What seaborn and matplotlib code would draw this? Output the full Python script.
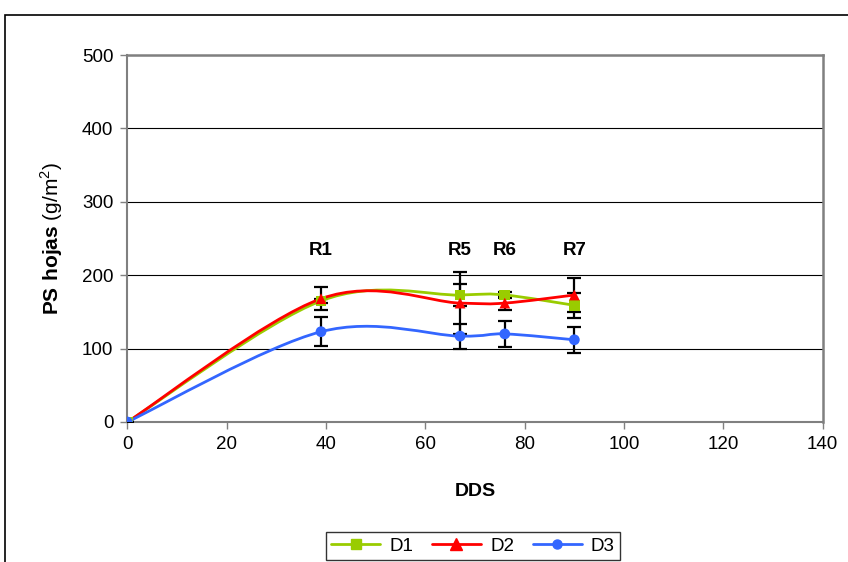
import numpy as np
import pandas as pd
import seaborn as sns
import matplotlib.pyplot as plt
from matplotlib.path import Path
from matplotlib.patches import PathPatch, Rectangle
from matplotlib.lines import Line2D

# datos
dds = [0, 39, 67, 76, 90]
d1 = [0, 165, 173, 173, 159]
d2 = [0, 168, 162, 162, 173]
d3 = [0, 123, 117, 120, 112]
err_d1 = [0, 3, 15, 4, 17]
err_d2 = [0, 16, 42, 10, 23]
err_d3 = [0, 20, 17, 18, 18]
etapas = ['R1', 'R5', 'R6', 'R7']
etapas_x = [39, 67, 76, 90]

series = {'D1': (d1, err_d1), 'D2': (d2, err_d2), 'D3': (d3, err_d3)}
colores = {'D1': '#99CC00', 'D2': '#FF0000', 'D3': '#3366FF'}
marcas = {'D1': 's', 'D2': '^', 'D3': 'o'}
tamanos = {'D1': 7, 'D2': 8, 'D3': 6.5}

df = pd.concat([pd.DataFrame({'DDS': dds, 'PS': v, 'err': e, 'trat': k})
                for k, (v, e) in series.items()], ignore_index=True)

sns.set_style('white')
plt.rcParams['font.family'] = ['Liberation Sans', 'DejaVu Sans']
plt.rcParams['text.color'] = 'black'
plt.rcParams['axes.labelcolor'] = 'black'
plt.rcParams['xtick.color'] = 'black'
plt.rcParams['ytick.color'] = 'black'
plt.rcParams['mathtext.fontset'] = 'custom'
plt.rcParams['mathtext.rm'] = 'Liberation Sans'
plt.rcParams['mathtext.bf'] = 'Liberation Sans:bold'


def curva_suave(x, y):
    # linea suavizada tipo Excel (bezier catmull-rom)
    pts = np.column_stack([x, y]).astype(float)
    verts = [pts[0]]
    codes = [Path.MOVETO]
    n = len(pts)
    for i in range(n - 1):
        p0 = pts[i - 1] if i > 0 else pts[i]
        p1 = pts[i]
        p2 = pts[i + 1]
        p3 = pts[i + 2] if i + 2 < n else pts[i + 1]
        verts += [p1 + (p2 - p0) / 6, p2 - (p3 - p1) / 6, p2]
        codes += [Path.CURVE4] * 3
    return Path(verts, codes)


fig = plt.figure(figsize=(8.48, 5.62), dpi=100)
ax = fig.add_axes([127.3 / 848, 1 - 422 / 562, (822.7 - 127.3) / 848, (422 - 55) / 562])

for k, (v, e) in series.items():
    ax.errorbar(dds, v, yerr=e, fmt='none', ecolor='black', elinewidth=1.6,
                capsize=5, capthick=1.6, zorder=3)

for k, (v, e) in series.items():
    ax.add_patch(PathPatch(curva_suave(dds, v), fill=False, edgecolor=colores[k],
                           linewidth=2, zorder=4))

sns.scatterplot(data=df, x='DDS', y='PS', hue='trat', style='trat', palette=colores,
                markers=marcas, s=60, edgecolor='none', legend=False, ax=ax, zorder=5)

ax.set_xlim(0, 140)
ax.set_ylim(0, 500)
ax.set_xticks(np.arange(0, 141, 20))
ax.set_yticks(np.arange(0, 501, 100))
ax.yaxis.grid(True, color='black', linewidth=0.8)
ax.set_axisbelow(True)
for s in ['top', 'right']:
    ax.spines[s].set_color('#808080')
    ax.spines[s].set_linewidth(1.8)
for s in ['left', 'bottom']:
    ax.spines[s].set_color('#808080')
    ax.spines[s].set_linewidth(1.5)
ax.tick_params(axis='both', direction='out', length=5, width=1, color='#808080',
               labelsize=13.5, pad=5, bottom=True, left=True)

ax.set_xlabel('DDS', fontsize=14, fontweight='bold', labelpad=22)
ax.set_ylabel(r'$\mathbf{PS\ hojas}$ (g/m$^{2}$)', fontsize=15, labelpad=12)

for et, xe in zip(etapas, etapas_x):
    ax.text(xe, 234, et, ha='center', va='center', fontsize=13.5, fontweight='bold')

handles = [Line2D([], [], color=colores[k], marker=marcas[k], markersize=tamanos[k],
                  linewidth=2) for k in series]
fig.legend(handles, list(series.keys()), loc='upper center', ncol=3,
           bbox_to_anchor=(473 / 848, 1 - 532 / 562), borderaxespad=0, frameon=True,
           fancybox=False, edgecolor='black', fontsize=13.5, handlelength=2.6,
           columnspacing=1.0, handletextpad=0.5, borderpad=0.3)

fig.patches.append(Rectangle((5 / 848, -0.1), 1.1, 1.1 - 15 / 562, transform=fig.transFigure,
                             fill=False, edgecolor='black', linewidth=1.2))

fig.savefig('out.png', dpi=100)
